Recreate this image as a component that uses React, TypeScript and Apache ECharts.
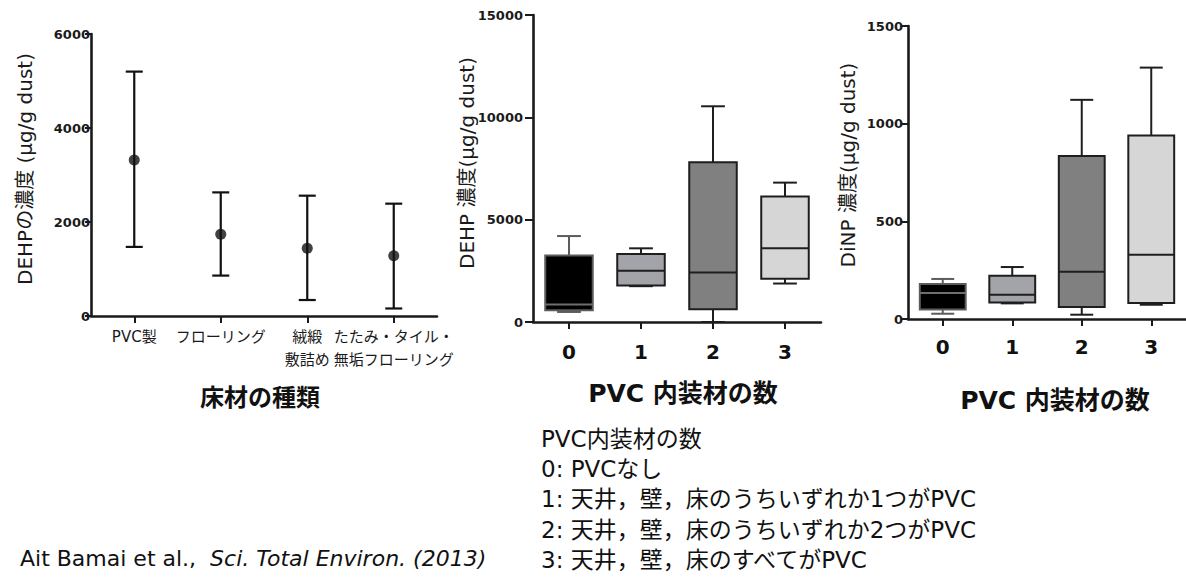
import React, { useEffect, useRef } from "react";
import * as echarts from "echarts";

// ---- Left chart: DEHP by floor material (mean with range) ----
const floorCategories = ["PVC製", "フローリング", "絨緞\n敷詰め", "たたみ・タイル・\n無垢フローリング"];
const floorMean = [3320, 1740, 1440, 1280];
const floorUpper = [5200, 2630, 2560, 2390];
const floorLower = [1470, 860, 340, 160];
const floorTicks = { min: 0, max: 6000, interval: 2000 };

// ---- Middle chart: DEHP by number of PVC interior materials (box plot) ----
const pvcCategories = ["0", "1", "2", "3"];
const dehpMin = [490, 1750, 0, 1880];
const dehpQ1 = [570, 1780, 620, 2110];
const dehpMedian = [860, 2500, 2420, 3600];
const dehpQ3 = [3250, 3320, 7810, 6130];
const dehpMax = [4200, 3600, 10540, 6810];
const dehpTicks = { min: 0, max: 15000, interval: 5000 };

// ---- Right chart: DiNP by number of PVC interior materials (box plot) ----
const dinpMin = [27, 80, 22, 73];
const dinpQ1 = [48, 85, 61, 82];
const dinpMedian = [133, 124, 242, 329];
const dinpQ3 = [179, 221, 835, 939];
const dinpMax = [205, 266, 1122, 1287];
const dinpTicks = { min: 0, max: 1500, interval: 500 };

const boxFills = ["#000000", "#a3a3aa", "#808080", "#d6d6d6"];
const boxStrokes = ["#5c5c5c", "#1e1e1e", "#1e1e1e", "#1e1e1e"];
const medianStrokes = ["#6e6e6e", "#1e1e1e", "#1e1e1e", "#1e1e1e"];

const legendLines = [
  "PVC内装材の数",
  "0: PVCなし",
  "1: 天井，壁，床のうちいずれか1つがPVC",
  "2: 天井，壁，床のうちいずれか2つがPVC",
  "3: 天井，壁，床のすべてがPVC",
];

const LATIN_CJK = "'DejaVu Sans', 'Noto Sans CJK JP', sans-serif";
const AXIS_COLOR = "#1a1a1a";

function boxRender(params: any, api: any) {
  const i = api.value(0);
  const idx = params.dataIndex;
  const pMin = api.coord([i, api.value(1)]);
  const pQ1 = api.coord([i, api.value(2)]);
  const pMed = api.coord([i, api.value(3)]);
  const pQ3 = api.coord([i, api.value(4)]);
  const pMax = api.coord([i, api.value(5)]);
  const bw = api.size([1, 0])[0] * 0.66;
  const x = pMed[0];
  const cap = bw / 4;
  const stroke = boxStrokes[idx];
  const ls = { stroke, lineWidth: 2 };
  return {
    type: "group",
    children: [
      { type: "line", shape: { x1: x, y1: pQ3[1], x2: x, y2: pMax[1] }, style: ls },
      { type: "line", shape: { x1: x - cap, y1: pMax[1], x2: x + cap, y2: pMax[1] }, style: ls },
      { type: "line", shape: { x1: x, y1: pQ1[1], x2: x, y2: pMin[1] }, style: ls },
      { type: "line", shape: { x1: x - cap, y1: pMin[1], x2: x + cap, y2: pMin[1] }, style: ls },
      {
        type: "rect",
        shape: { x: x - bw / 2, y: pQ3[1], width: bw, height: pQ1[1] - pQ3[1] },
        style: { fill: boxFills[idx], stroke, lineWidth: 2 },
      },
      {
        type: "line",
        shape: { x1: x - bw / 2, y1: pMed[1], x2: x + bw / 2, y2: pMed[1] },
        style: { stroke: medianStrokes[idx], lineWidth: 2 },
      },
    ],
  };
}

function errorRender(params: any, api: any) {
  const i = api.value(0);
  const hi = api.coord([i, api.value(1)]);
  const lo = api.coord([i, api.value(2)]);
  const c = 8.5;
  const s = { stroke: "#111", lineWidth: 2.2 };
  return {
    type: "group",
    children: [
      { type: "line", shape: { x1: hi[0], y1: hi[1], x2: lo[0], y2: lo[1] }, style: s },
      { type: "line", shape: { x1: hi[0] - c, y1: hi[1], x2: hi[0] + c, y2: hi[1] }, style: s },
      { type: "line", shape: { x1: lo[0] - c, y1: lo[1], x2: lo[0] + c, y2: lo[1] }, style: s },
    ],
  };
}

function yAxisCfg(grid: number, t: { min: number; max: number; interval: number }, tickLen: number, margin: number) {
  return {
    type: "value",
    gridIndex: grid,
    min: t.min,
    max: t.max,
    interval: t.interval,
    splitLine: { show: false },
    axisLine: { show: true, lineStyle: { color: AXIS_COLOR, width: 2.6 } },
    axisTick: { show: true, length: tickLen, lineStyle: { color: AXIS_COLOR, width: 2 } },
    axisLabel: {
      margin,
      color: "#1a1a1a",
      fontFamily: "'DejaVu Sans', sans-serif",
      fontWeight: "bold",
      fontSize: 13,
      formatter: (v: number) => String(v),
    },
  };
}

function xAxisCfg(grid: number, data: string[], label: any) {
  return {
    type: "category",
    gridIndex: grid,
    data,
    axisLine: { show: true, lineStyle: { color: AXIS_COLOR, width: 2.6 } },
    axisTick: { show: true, alignWithLabel: true, length: 7, lineStyle: { color: AXIS_COLOR, width: 2 } },
    axisLabel: label,
    splitLine: { show: false },
  };
}

function rotatedTitle(text: string, x: number, y: number, size: number) {
  return {
    type: "text",
    x,
    y,
    rotation: Math.PI / 2,
    style: {
      text,
      fill: "#1a1a1a",
      fontSize: size,
      fontFamily: LATIN_CJK,
      align: "center",
      verticalAlign: "middle",
      textAlign: "center",
      textVerticalAlign: "middle",
    },
  };
}

function plainText(text: string, x: number, y: number, size: number, bold: boolean, align = "center") {
  return {
    type: "text",
    x,
    y,
    style: {
      text,
      fill: "#111",
      fontSize: size,
      fontWeight: bold ? "bold" : "normal",
      fontFamily: LATIN_CJK,
      align,
      verticalAlign: "middle",
      textAlign: align,
      textVerticalAlign: "middle",
    },
  };
}

export default function App() {
  const ref = useRef<HTMLDivElement>(null);

  useEffect(() => {
    if (!ref.current) return;
    const chart = echarts.init(ref.current, null, { renderer: "svg" });

    const dehpData = pvcCategories.map((_, i) => [i, dehpMin[i], dehpQ1[i], dehpMedian[i], dehpQ3[i], dehpMax[i]]);
    const dinpData = pvcCategories.map((_, i) => [i, dinpMin[i], dinpQ1[i], dinpMedian[i], dinpQ3[i], dinpMax[i]]);
    const errData = floorCategories.map((_, i) => [i, floorUpper[i], floorLower[i]]);
    const meanData = floorCategories.map((_, i) => [i, floorMean[i]]);

    const numLabel = (margin: number) => ({
      margin,
      color: "#111",
      fontFamily: "'DejaVu Sans', sans-serif",
      fontWeight: "bold",
      fontSize: 20,
    });

    const graphics: any[] = [
      rotatedTitle("DEHPの濃度 (μg/g dust)", 25, 169, 20),
      rotatedTitle("DEHP 濃度(μg/g dust)", 467, 163, 20),
      rotatedTitle("DiNP 濃度(μg/g dust)", 848, 165, 20),
      plainText("床材の種類", 260, 398, 24, true),
      plainText("PVC 内装材の数", 683, 393, 25, true),
      plainText("PVC 内装材の数", 1055, 400, 25, true),
      ...legendLines.map((t, k) => plainText(t, 541, 439 + k * 30.2, 23, false, "left")),
      {
        type: "text",
        x: 20,
        y: 558,
        style: {
          text: "{a|Ait Bamai et al.,  }{b|Sci. Total Environ. (2013)}",
          fill: "#111",
          fontSize: 22,
          fontFamily: LATIN_CJK,
          align: "left",
          verticalAlign: "middle",
          textAlign: "left",
          textVerticalAlign: "middle",
          rich: {
            a: { fontSize: 22, fontFamily: LATIN_CJK, fill: "#111" },
            b: { fontSize: 22, fontFamily: LATIN_CJK, fontStyle: "italic", fill: "#111" },
          },
        },
      },
    ];

    chart.setOption({
      animation: false,
      backgroundColor: "#ffffff",
      grid: [
        { left: 91, top: 34, width: 346, height: 282 },
        { left: 533, top: 15, width: 288, height: 307 },
        { left: 908, top: 26, width: 278, height: 293 },
      ],
      xAxis: [
        xAxisCfg(0, floorCategories, {
          margin: 9,
          color: "#1a1a1a",
          fontFamily: LATIN_CJK,
          fontSize: 15,
          lineHeight: 23,
          interval: 0,
        }),
        xAxisCfg(1, pvcCategories, numLabel(20)),
        xAxisCfg(2, pvcCategories, numLabel(18)),
      ],
      yAxis: [yAxisCfg(0, floorTicks, 6, 1), yAxisCfg(1, dehpTicks, 8, 10), yAxisCfg(2, dinpTicks, 6, 5)],
      series: [
        {
          type: "custom",
          xAxisIndex: 0,
          yAxisIndex: 0,
          data: errData,
          encode: { x: 0, y: [1, 2] },
          renderItem: errorRender,
          z: 2,
        },
        {
          type: "scatter",
          xAxisIndex: 0,
          yAxisIndex: 0,
          data: meanData,
          symbol: "circle",
          symbolSize: 11,
          itemStyle: { color: "#111" },
          z: 3,
        },
        {
          type: "custom",
          xAxisIndex: 1,
          yAxisIndex: 1,
          data: dehpData,
          encode: { x: 0, y: [1, 2, 3, 4, 5] },
          renderItem: boxRender,
        },
        {
          type: "custom",
          xAxisIndex: 2,
          yAxisIndex: 2,
          data: dinpData,
          encode: { x: 0, y: [1, 2, 3, 4, 5] },
          renderItem: boxRender,
        },
      ],
      graphic: graphics,
    });

    return () => chart.dispose();
  }, []);

  return (
    <div
      ref={ref}
      style={{ position: "absolute", left: 0, top: 0, width: 1186, height: 579, background: "#fff" }}
    />
  );
}
